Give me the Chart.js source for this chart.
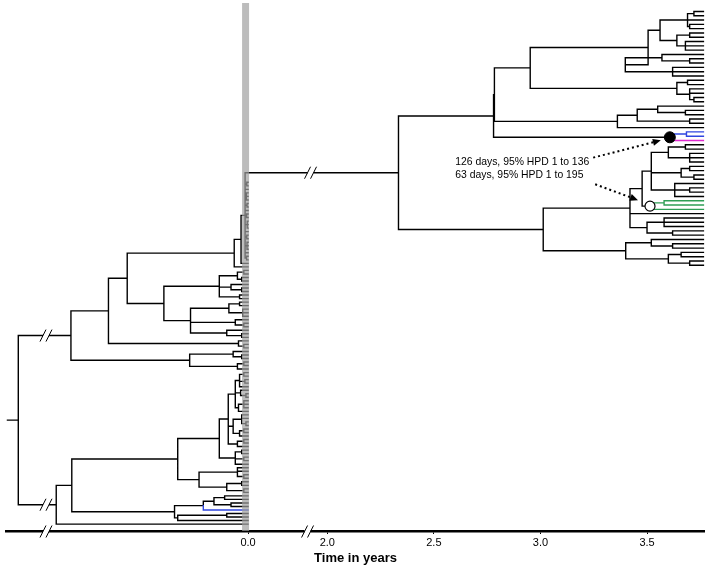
<!DOCTYPE html>
<html><head><meta charset="utf-8">
<script src="https://cdn.jsdelivr.net/npm/chart.js@4.4.1/dist/chart.umd.min.js"></script>
<style>html,body{margin:0;padding:0;background:#fff;}#wrap{width:711px;height:569px;position:relative;}</style>
</head><body><div id="wrap"><canvas id="c" width="711" height="569"></canvas></div>
<script>
// ---------- axis data ----------
const tickYears  = [0.0, 2.0, 2.5, 3.0, 3.5];
const tickLabels = ['0.0', '2.0', '2.5', '3.0', '3.5'];
const axisTitle  = 'Time in years';
const AXIS_SHIFT = 1.6284;       // years cut out by the axis break (right part)
const RIGHT_TIP_YEAR = 3.765;    // sampling time of right-hand tips (years)
const LEFT_TIP_TIME  = 0.0;      // sampling time of left-hand tips
const LEFT_ROOT_STEM = -1.13;    // start of the root stem (left tree)

// ---------- tree data: [nodeTime, ...children]; leaf 0 = black tip, 'b' blue, 'm' magenta, 'g' green
// 'F' / 'O' as first element marks a node with a filled / open circle; 'R' = attach right-hand tree
const rightU1 = [2.952,
  [3.505,
    [3.561, [3.69, [3.72, 0, 0], 0, [3.70, 0, 0]], [3.64, [3.70, 0, 0], [3.68, 0, 0, 0]]],
    [3.398, [3.57, 0, [3.70, 0, 0]], [3.62, 0, 0, 0]]],
  [3.64, [3.69, 0, 0], [3.70, 0, 0, [3.72, 0, 0]]]
];
const rightU2 = [3.361, [3.454, [3.55, 0, [3.68, 0, 0]], [3.70, 0, 0]], 0];
const rightU3 = ['F', 3.607, [3.685, 'b', 'b'], 'm'];
const rightL1 = [3.42,
  [3.477,
    [3.52, [3.60, [3.68, 0, 0], [3.70, 0, 0, 0]], [3.66, [3.70, 0, 0], [3.72, 0, 0]], [3.63, 0, [3.70, 0, 0], 0]],
    ['O', 3.514, [3.58, 'g', 'g'], 'g']],
  0,
  [3.50, [3.58, 0, 0, 0], [3.62, 0, 0]]
];
const rightL2 = [3.40, [3.52, 0, [3.62, 0, 0]], [3.60, [3.66, 0, 0], [3.70, 0, 0]]];
const rightTree = [2.334, [2.78, [2.784, rightU1, rightU2], rightU3], [3.013, rightL1, rightL2]];

const leftY = [-0.014, 'R', [-0.006, 0, 0], 0, [-0.008, 0, 0, 0], [-0.005, 0, 0], 0, [-0.007, 0, 0],
  [-0.004, 0, 0, 0], 0, [-0.006, 0, 0], [-0.005, 0, 0, 0], 0, [-0.007, 0, 0]];
const leftT1a2 = [-0.395,
  [-0.135, [-0.05, [-0.02, 0, 0], [-0.03, 0, 0]], [-0.08, 0, [-0.03, 0, 0]], [-0.04, 0, 0]],
  [-0.27, [-0.09, [-0.04, 0, 0], [-0.025, 0, 0, 0]], [-0.06, 0, [-0.02, 0, 0]], [-0.1, 0, [-0.03, 0, 0]]]
];
const leftT = [-0.831,
  [-0.655, [-0.567, [-0.065, [-0.033, leftY, 0], 0], leftT1a2], [-0.045, 0, [-0.02, 0, 0]]],
  [-0.274, [-0.07, 0, [-0.03, 0, 0]], [-0.05, [-0.02, 0, 0], 0]]
];
const leftB1a = [-0.33,
  [-0.135,
    [-0.093,
      [-0.06, [-0.04, [-0.02, 0, 0], [-0.015, 0, 0], 0], [-0.035, 0, [-0.01, 0, 0]], [-0.045, [-0.02, 0, 0, 0], 0]],
      [-0.07, [-0.03, 0, 0, [-0.01, 0, 0]], [-0.04, [-0.02, 0, 0], 0]],
      [-0.05, [-0.02, 0, 0], 0]],
    [-0.06, [-0.03, 0, 0], [-0.02, 0, 0], 0]],
  [-0.23, [-0.05, 0, 0, [-0.02, 0, 0]], [-0.1, [-0.03, 0, 0], [-0.02, 0, 0]]]
];
const leftB1b = [-0.345,
  [-0.21, [-0.16, [-0.11, 0, 0], [-0.08, 0, 0]], 'b'],
  [-0.33, [-0.10, 0, 0], 0]
];
const leftTree = [-1.078, leftT, [-0.90, [-0.827, leftB1a, leftB1b], 0]];

const noteTexts = ['126 days, 95% HPD 1 to 136', '63 days, 95% HPD 1 to 195'];

// ---------- layout constants ----------
const ROWS = 531;                       // y rows = pixels of plot area
const RIGHT_ROWS = [5, 262], LEFT_ROWS = [178, 524];
const COLORS = { k: '#000000', b: '#2f45e0', m: '#e02ad0', g: '#2f9e55' };

// ---------- build ----------
let RIGHT = null;
const allNodes = [];
function build(n, side) {
  if (n === 'R') return RIGHT;
  let node;
  if (!Array.isArray(n)) {
    node = { leaf: true, col: n === 0 ? 'k' : n, x: side === 'R' ? RIGHT_TIP_YEAR - AXIS_SHIFT : LEFT_TIP_TIME, children: [] };
  } else {
    let i = 0, mark = null;
    if (typeof n[0] === 'string') { mark = n[0]; i = 1; }
    const t = n[i];
    node = { leaf: false, mark, x: side === 'R' ? t - AXIS_SHIFT : t, children: n.slice(i + 1).map(c => build(c, side)) };
  }
  allNodes.push(node);
  return node;
}
RIGHT = build(rightTree, 'R');
const LEFT = build(leftTree, 'L');

function layout(root, rows, skip) {
  const tips = [];
  (function walk(n) { if (n === skip) return; if (n.leaf) tips.push(n); else n.children.forEach(walk); })(root);
  tips.forEach((t, i) => t.y = rows[0] + i * (rows[1] - rows[0]) / (tips.length - 1));
  (function setY(n) {
    if (n === skip || n.leaf) return n.y;
    n.children.forEach(setY);
    n.y = (n.children[0].y + n.children[n.children.length - 1].y) / 2;
    return n.y;
  })(root);
}
layout(RIGHT, RIGHT_ROWS, null);
layout(LEFT, LEFT_ROWS, RIGHT);

function edgeCol(n) {
  if (n.leaf) return n.col;
  if (n.mark) return 'k';
  const cs = n.children.map(edgeCol);
  return cs.every(c => c === cs[0]) ? cs[0] : 'k';
}
const segs = { k: [], b: [], m: [], g: [] };
const GAP = { x: NaN, y: NaN };
(function walk(n) {
  n.children.forEach(c => {
    const col = edgeCol(c);
    segs[col].push({ x: n.x, y: n.y }, { x: n.x, y: c.y }, { x: c.x, y: c.y }, GAP);
    walk(c);
  });
})(LEFT);
segs.k.push({ x: LEFT_ROOT_STEM, y: LEFT.y }, { x: LEFT.x, y: LEFT.y }, GAP);

const marked = allNodes.filter(n => n.mark);
const filledPts = marked.filter(n => n.mark === 'F').map(n => ({ x: n.x, y: n.y }));
const openPts = marked.filter(n => n.mark === 'O').map(n => ({ x: n.x, y: n.y }));

// decorations: breaks on branches (x in display units) and on axis
const branchBreaks = [{ node: leftTree[1], x: -0.948 }, { node: leftTree[2], x: -0.948 }, { node: rightTree, x: 0.293 }];
const axisBreaks = [-0.948, 0.279];

const X_MIN = (3 - 247) / 215.3, X_MAX = (708 - 247) / 215.3;

function lineDs(col, w) {
  return { data: segs[col], showLine: true, borderColor: COLORS[col], borderWidth: w, pointRadius: 0,
    spanGaps: false, tension: 0, borderCapStyle: 'square', borderJoinStyle: 'miter' };
}

function slashes(ctx, px, py) {
  ctx.save();
  ctx.fillStyle = '#fff';
  ctx.fillRect(px - 3, py - 3, 6, 6);
  ctx.strokeStyle = '#000'; ctx.lineWidth = 1;
  for (const dx of [-3, 3]) {
    ctx.beginPath(); ctx.moveTo(px + dx - 3, py + 6); ctx.lineTo(px + dx + 3, py - 6); ctx.stroke();
  }
  ctx.restore();
}

function arrow(ctx, x0, y0, x1, y1) {
  const a = Math.atan2(y1 - y0, x1 - x0), L = 8;
  ctx.save();
  ctx.strokeStyle = '#000'; ctx.lineWidth = 2; ctx.setLineDash([2, 3]);
  ctx.beginPath(); ctx.moveTo(x0, y0); ctx.lineTo(x1 - L * Math.cos(a), y1 - L * Math.sin(a)); ctx.stroke();
  ctx.setLineDash([]); ctx.fillStyle = '#000';
  ctx.beginPath(); ctx.moveTo(x1, y1);
  ctx.lineTo(x1 - L * Math.cos(a) + 3.5 * Math.sin(a), y1 - L * Math.sin(a) - 3.5 * Math.cos(a));
  ctx.lineTo(x1 - L * Math.cos(a) - 3.5 * Math.sin(a), y1 - L * Math.sin(a) + 3.5 * Math.cos(a));
  ctx.closePath(); ctx.fill();
  ctx.restore();
}

// map raw arrays to built nodes
const rawToNode = new Map();
(function pair(raw, node) {
  if (!Array.isArray(raw) || !node || node.leaf) return;
  rawToNode.set(raw, node);
  const kids = raw.slice(typeof raw[0] === 'string' ? 2 : 1);
  kids.forEach((k, i) => pair(k === 'R' ? rightTree : k, node.children[i]));
})(leftTree, LEFT);

const deco = {
  id: 'deco',
  afterDatasetsDraw(chart) {
    const { ctx, scales: { x } } = chart;
    const px0 = x.getPixelForValue(LEFT_TIP_TIME);
    ctx.save();
    ctx.fillStyle = 'rgba(160,160,160,0.7)';
    ctx.fillRect(px0 - 6, 3, 7, chart.chartArea.bottom - 3);
    ctx.restore();
  },
  afterDraw(chart) {
    const { ctx, scales: { x, y } } = chart;
    branchBreaks.forEach(b => {
      const n = rawToNode.get(b.node);
      if (n) slashes(ctx, x.getPixelForValue(b.x), y.getPixelForValue(n.y));
    });
    axisBreaks.forEach(v => slashes(ctx, x.getPixelForValue(v), chart.chartArea.bottom + 0.5));
    ctx.save();
    ctx.font = '10.4px "Liberation Sans", Arial, sans-serif';
    ctx.fillStyle = '#000'; ctx.textBaseline = 'middle'; ctx.textAlign = 'left';
    const tx = x.getPixelForValue(2.6 - AXIS_SHIFT);
    const rowsY = [158, 171];
    noteTexts.forEach((t, i) => ctx.fillText(t, tx, y.getPixelForValue(rowsY[i])));
    const w1 = ctx.measureText(noteTexts[0]).width;
    ctx.restore();
    const f = filledPts[0], o = openPts[0];
    const sx = tx + w1 + 4;
    arrow(ctx, sx, y.getPixelForValue(153), x.getPixelForValue(f.x) - 9, y.getPixelForValue(f.y) + 3);
    arrow(ctx, sx + 2, y.getPixelForValue(180), x.getPixelForValue(o.x) - 12, y.getPixelForValue(o.y) - 6);
  }
};

new Chart(document.getElementById('c'), {
  type: 'scatter',
  data: {
    datasets: [
      { data: filledPts, pointRadius: 5.5, pointBackgroundColor: '#000', pointBorderColor: '#000', pointBorderWidth: 1, showLine: false },
      { data: openPts, pointRadius: 5, pointBackgroundColor: '#fff', pointBorderColor: '#000', pointBorderWidth: 1.2, showLine: false },
      lineDs('b', 1.4), lineDs('m', 1.4), lineDs('g', 1.4), lineDs('k', 1.4)
    ]
  },
  options: {
    responsive: false, animation: false, devicePixelRatio: 1, events: [],
    layout: { padding: { left: 3, right: 3, top: 0, bottom: 0 } },
    plugins: { legend: { display: false }, tooltip: { enabled: false } },
    scales: {
      x: {
        type: 'linear', min: X_MIN, max: X_MAX,
        afterBuildTicks: s => { s.ticks = tickYears.map(v => ({ value: v === 0 ? 0 : v - AXIS_SHIFT })); },
        afterFit: s => { s.height = 38; },
        ticks: { callback: (v, i) => tickLabels[i], color: '#000', font: { family: 'Liberation Sans', size: 11 },
          maxRotation: 0, autoSkip: false, padding: 2 },
        grid: { display: true, drawOnChartArea: false, drawTicks: true, tickLength: 3, color: '#000', lineWidth: 1 },
        border: { display: true, color: '#000', width: 2.5 },
        title: { display: true, text: axisTitle, color: '#000',
          font: { family: 'Liberation Sans', size: 13, weight: 'bold' }, padding: { top: 0, bottom: 3 } }
      },
      y: { display: false, min: 0, max: ROWS, reverse: true }
    }
  },
  plugins: [deco]
});
</script></body></html>
